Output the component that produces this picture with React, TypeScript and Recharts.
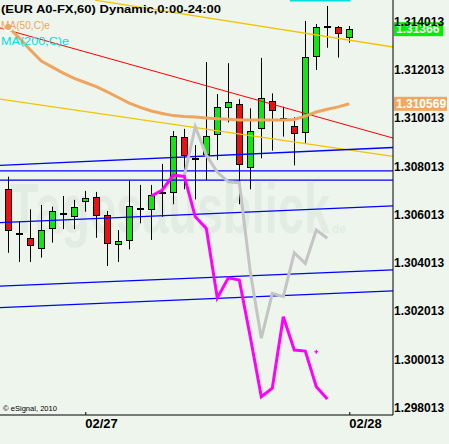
import React from 'react';
import { ComposedChart, XAxis, YAxis, Bar, Line, ReferenceLine, Scatter } from 'recharts';

const W = 449;
const H = 444;

// x axis: hourly bar index (0..31); date ticks at midnight bars
const dateTicks = [7, 31];
const dateLabels = ['02/27', '02/28'];
const priceTicks = [1.298013, 1.300013, 1.302013, 1.304013, 1.306013, 1.308013, 1.310013, 1.312013, 1.314013];
const xDomain = [-0.7545, 34.9727];
const yDomain = [1.297682, 1.314867];

const opens = [1.30703, 1.30523, 1.305, 1.30457, 1.3054, 1.30606, 1.30587, 1.30649, 1.3067, 1.30595, 1.30471, 1.30489, 1.30627, 1.30616, 1.30693, 1.30686, 1.30918, 1.30831, 1.30844, 1.30926, 1.31038, 1.31055, 1.3079, 1.30951, 1.31067, 1.30998, 1.30964, 1.30935, 1.31252, 1.3137, 1.31374, 1.31329];
const highs = [1.30755, 1.30569, 1.3062, 1.30638, 1.30631, 1.30675, 1.30659, 1.30696, 1.30692, 1.30613, 1.30534, 1.30738, 1.30721, 1.30721, 1.30808, 1.30944, 1.30953, 1.30886, 1.3123, 1.31097, 1.31225, 1.31076, 1.31038, 1.31247, 1.311, 1.31045, 1.31001, 1.314, 1.31387, 1.31462, 1.31379, 1.31379];
const lows = [1.3044, 1.30402, 1.30402, 1.3042, 1.30482, 1.30538, 1.30538, 1.3061, 1.30502, 1.30385, 1.30402, 1.30454, 1.30562, 1.30493, 1.30589, 1.30641, 1.30703, 1.30661, 1.30741, 1.30824, 1.3098, 1.30641, 1.30703, 1.30831, 1.30863, 1.30921, 1.30802, 1.30893, 1.31197, 1.31289, 1.31248, 1.3131];
const closes = [1.30531, 1.30523, 1.30469, 1.30534, 1.30613, 1.30606, 1.30628, 1.30666, 1.30591, 1.30475, 1.30487, 1.30632, 1.30627, 1.30678, 1.30693, 1.30922, 1.3084, 1.30831, 1.30922, 1.31042, 1.31063, 1.30802, 1.30943, 1.31079, 1.31026, 1.30989, 1.30931, 1.31249, 1.31374, 1.31379, 1.31345, 1.31366];

const ma50 = [1.31375, 1.31329, 1.3128, 1.31234, 1.31209, 1.31184, 1.31162, 1.31145, 1.31128, 1.31106, 1.31083, 1.3106, 1.31042, 1.31027, 1.31017, 1.31008, 1.31004, 1.31002, 1.30998, 1.30995, 1.30993, 1.3099, 1.3099, 1.3099, 1.3099, 1.3099, 1.30992, 1.31006, 1.31023, 1.31034, 1.31044, 1.310569];

const pinkLine = [null, null, null, null, null, null, null, null, null, null, null, null, null,
  1.30675, 1.307, 1.30762, 1.30756, 1.30589, 1.30541, 1.30253, 1.30336, 1.30327, 1.30091, 1.29844, 1.29879, 1.30175, 1.30037, 1.30033, 1.29885, 1.29834, null, null];
const grayLine = [null, null, null, null, null, null, null, null, null, null, null, null, null, null, null, null,
  1.30758, 1.30962, 1.30845, 1.30774, 1.30734, 1.3073, 1.3036, 1.30086, 1.30272, 1.30258, 1.3044, 1.30396, 1.30534, 1.305, null, null];
const pinkDot = [{ x: 28, dot: 1.3003 }];

const lastPrice = 1.31366;
const maLast = 1.310569;

// trend lines: start/end (bar index, price); last one is the visible MA(200) sliver at the top
const trendX1 = [-0.7545, 7.88, -0.7545, -0.7545, -0.7545, -0.7545, -0.7545, -0.7545, -0.7545, 25.6];
const trendY1 = [1.31371, 1.31486, 1.31076, 1.30802, 1.30779, 1.30741, 1.30565, 1.30302, 1.30213, 1.31484];
const trendX2 = [34.9727, 34.9727, 34.9727, 34.9727, 34.9727, 34.9727, 34.9727, 34.9727, 34.9727, 31.1];
const trendY2 = [1.30915, 1.31292, 1.30839, 1.30876, 1.30779, 1.30741, 1.30634, 1.30369, 1.30282, 1.31484];
const trendColors = ['#ff0000', '#f2c400', '#f2c400', '#0000ff', '#0000ff', '#0000ff', '#0000ff', '#0000ff', '#0000ff', '#00e0e0'];
const trendWidths = [1, 1.3, 1.3, 1.4, 1.4, 1.4, 1.4, 1.4, 1.4, 1.5];

const data = opens.map((o, i) => ({
  x: i,
  o,
  h: highs[i],
  l: lows[i],
  c: closes[i],
  range: [lows[i], highs[i]],
  ma50: ma50[i],
  pink: pinkLine[i],
  gray: grayLine[i],
}));

const FONT = 'Liberation Sans, Arial, Helvetica, sans-serif';

const Candle = (props: any) => {
  const { x, y, width, height, payload } = props;
  if (!payload || x == null) return null;
  const { o, h, l, c } = payload;
  const top = Math.min(y, y + height);
  const hh = Math.abs(height);
  const per = h - l > 0 ? hh / (h - l) : 0;
  const px = Math.round(x + width / 2);
  const yO = top + (h - o) * per;
  const yC = top + (h - c) * per;
  let b1 = Math.round(Math.min(yO, yC));
  let b2 = Math.round(Math.max(yO, yC));
  const doji = o === c;
  if (b2 - b1 < 2) b2 = b1 + 2;
  const fill = doji ? '#000' : c > o ? '#10e610' : '#ee1010';
  return (
    <g>
      <line x1={px + 0.5} x2={px + 0.5} y1={top} y2={top + hh} stroke="#000" strokeWidth={1} />
      <rect x={px - 2.5} y={b1 + 0.5} width={6} height={b2 - b1 - 1} fill={fill} stroke="#000" strokeWidth={1} />
    </g>
  );
};

const DateTick = (props: any) => {
  const { x, y, payload } = props;
  const idx = dateTicks.indexOf(payload.value);
  return (
    <g>
      <line x1={x + 0.5} x2={x + 0.5} y1={y - 3} y2={y} stroke="#000" />
      <text x={x} y={y + 4} dy="0.71em" textAnchor="start" fontFamily={FONT} fontWeight="bold" fontSize={13} fill="#000">
        {idx >= 0 ? dateLabels[idx] : ''}
      </text>
    </g>
  );
};

const PriceTick = (props: any) => {
  const { x, y, payload } = props;
  return (
    <text x={x} y={y} dy="0.42em" textAnchor="start" fontFamily={FONT} fontWeight="bold" fontSize={12} fill="#000">
      {Number(payload.value).toFixed(6)}
    </text>
  );
};

const makeTag = (text: string, bg: string, w: number) => (props: any) => {
  const vb = props.viewBox || {};
  const x0 = (vb.x || 0) + (vb.width || 0) + 1;
  const yc = vb.y || 0;
  return (
    <g>
      <rect x={x0} y={yc - 7} width={w} height={14} fill={bg} />
      <text x={x0 + 2} y={yc} dy="0.36em" fontFamily={FONT} fontWeight="bold" fontSize={12} fill="#fff">
        {text}
      </text>
    </g>
  );
};

const PlusShape = (props: any) => {
  const { cx, cy } = props;
  return (
    <g>
      <line x1={cx - 2} x2={cx + 2} y1={cy} y2={cy} stroke="#ff00ff" strokeWidth={1.2} />
      <line x1={cx} x2={cx} y1={cy - 2} y2={cy + 2} stroke="#ff00ff" strokeWidth={1.2} />
    </g>
  );
};

export default function App() {
  return (
    <div style={{ position: 'absolute', left: 0, top: 0, width: W, height: H, background: '#edf5ed', overflow: 'hidden' }}>
      <svg width={W} height={H} style={{ position: 'absolute', left: 0, top: 0 }}>
        <text x={10} y={233} fontFamily={FONT} fontWeight="bold" fontSize={70} fill="#e3ece3" textLength={320} lengthAdjust="spacingAndGlyphs">
          Tagesausblick
        </text>
        <text x={332} y={233} fontFamily={FONT} fontWeight="bold" fontSize={12} fill="#e3ece3">de</text>
      </svg>
      <div style={{ position: 'absolute', left: 0, top: 0 }}>
        <ComposedChart width={W} height={H} data={data} margin={{ top: 0, right: 0, bottom: 0, left: 0 }}>
          <XAxis
            type="number"
            dataKey="x"
            domain={xDomain}
            allowDataOverflow
            ticks={dateTicks}
            interval={0}
            tick={<DateTick />}
            tickLine={false}
            tickSize={0}
            tickMargin={0}
            height={29}
            axisLine={{ stroke: '#000', strokeWidth: 1 }}
          />
          <YAxis
            orientation="right"
            type="number"
            domain={yDomain}
            allowDataOverflow
            ticks={priceTicks}
            interval={0}
            tick={<PriceTick />}
            tickLine={false}
            tickSize={0}
            tickMargin={1}
            width={56}
            axisLine={{ stroke: '#000', strokeWidth: 1 }}
          />
          {trendX1.map((x1, i) => (
            <ReferenceLine
              key={'t' + i}
              segment={[{ x: x1, y: trendY1[i] }, { x: trendX2[i], y: trendY2[i] }]}
              stroke={trendColors[i]}
              strokeWidth={trendWidths[i]}
              ifOverflow="hidden"
            />
          ))}
          <Line dataKey="ma50" stroke="#f0a55e" strokeWidth={3} dot={false} isAnimationActive={false} />
          <Line dataKey="gray" stroke="#c4c4c4" strokeWidth={3} dot={false} isAnimationActive={false} />
          <Line dataKey="pink" stroke="#ff00ff" strokeWidth={3} dot={false} isAnimationActive={false} />
          <Bar dataKey="range" barSize={9} shape={<Candle />} isAnimationActive={false} />
          <Scatter data={pinkDot} dataKey="dot" shape={<PlusShape />} isAnimationActive={false} />
          <ReferenceLine y={lastPrice} stroke="none" ifOverflow="visible" label={makeTag('1.31366', '#00ee00', 49)} />
          <ReferenceLine y={maLast} stroke="none" ifOverflow="visible" label={makeTag('1.310569', '#f0a860', 53)} />
        </ComposedChart>
      </div>
      <svg width={W} height={H} style={{ position: 'absolute', left: 0, top: 0, pointerEvents: 'none' }}>
        <text x={1} y={12.5} fontFamily={FONT} fontWeight="bold" fontSize={11.5} fill="#000" textLength={220} lengthAdjust="spacingAndGlyphs">
          (EUR A0-FX,60) Dynamic,0:00-24:00
        </text>
        <text x={1} y={28.7} fontFamily={FONT} fontSize={11.5} fill="#f0a55e" textLength={49} lengthAdjust="spacingAndGlyphs">
          MA(50,C)e
        </text>
        <text x={1} y={44.7} fontFamily={FONT} fontSize={11.5} fill="#00e0e0" textLength={68} lengthAdjust="spacingAndGlyphs">
          MA(200,C)e
        </text>
        <text x={3} y={411} fontFamily={FONT} fontSize={7.5} fill="#000" textLength={54} lengthAdjust="spacingAndGlyphs">
          © eSignal, 2010
        </text>
      </svg>
    </div>
  );
}
